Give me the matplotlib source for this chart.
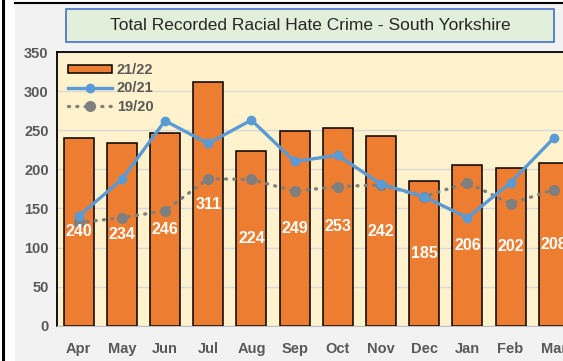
import matplotlib.pyplot as plt
import matplotlib.patches as mpatches
from matplotlib.lines import Line2D
import numpy as np

months = ['Apr', 'May', 'Jun', 'Jul', 'Aug', 'Sep', 'Oct', 'Nov', 'Dec', 'Jan', 'Feb', 'Mar']
crimes_2122 = [240, 234, 246, 311, 224, 249, 253, 242, 185, 206, 202, 208]
crimes_2021 = [140, 187, 262, 233, 263, 210, 218, 181, 165, 138, 183, 240]
crimes_1920 = [132, 138, 147, 188, 187, 172, 178, 180, 165, 183, 156, 174]
y_ticks = [0, 50, 100, 150, 200, 250, 300, 350]

plt.rcParams['font.family'] = ['Liberation Sans', 'DejaVu Sans']

fig = plt.figure(figsize=(5.63, 3.61), dpi=100)
W, H = 563, 361

# grey chart area and the black frame lines
fig.patches.append(mpatches.Rectangle((15 / W, 0), 1, (H - 3) / H, transform=fig.transFigure,
                                      facecolor='#F2F2F2', edgecolor='none', zorder=-2))
fig.add_artist(Line2D([2.5 / W, 2.5 / W], [0, 1], color='black', lw=2.2, transform=fig.transFigure))
fig.add_artist(Line2D([15 / W, 1], [(H - 3) / H, (H - 3) / H], color='black', lw=1.5,
                      transform=fig.transFigure))

ax = fig.add_axes([57 / W, 35.3 / H, 518.4 / W, 273.7 / H])
ax.set_facecolor('#FFF2CC')

x = np.arange(len(months))
bars = ax.bar(x, crimes_2122, width=0.69, color='#ED7D31', edgecolor='black', linewidth=1.1,
              label='21/22', zorder=2)
blue, = ax.plot(x, crimes_2021, color='#5B9BD5', lw=2.4, marker='o', markersize=6,
                label='20/21', zorder=4)
grey, = ax.plot(x, crimes_1920, color='#7F7F7F', lw=2.4, linestyle=(0, (0.3, 2.2)),
                dash_capstyle='round', marker='o', markersize=7, label='19/20', zorder=3)

for xi, v in zip(x, crimes_2122):
    ax.text(xi, v / 2, str(v), ha='center', va='center', color='white',
            fontsize=11.5, fontweight='bold', zorder=5)

ax.set_xlim(-0.5, 11.5)
ax.set_ylim(0, 350)
ax.set_yticks(y_ticks)
ax.set_xticks(x)
ax.set_xticklabels(months)
ax.yaxis.grid(True, color='#D9D9D9', lw=1)
ax.set_axisbelow(True)
ax.tick_params(length=0, labelsize=10.5, labelcolor='#595959', pad=6)
ax.tick_params(axis='x', pad=12)
for lab in ax.get_xticklabels() + ax.get_yticklabels():
    lab.set_fontweight('bold')

for side in ['top', 'left']:
    ax.spines[side].set_color('black')
    ax.spines[side].set_linewidth(1.3)
ax.spines['bottom'].set_color('#BFBFBF')
ax.spines['right'].set_visible(False)

leg = ax.legend(handles=[bars, blue, grey], loc='upper left', frameon=False,
                fontsize=10.5, handlelength=3.0, handleheight=0.5,
                bbox_to_anchor=(0.0, 1.0), borderaxespad=0.35,
                labelspacing=0.3, handletextpad=0.35)
for t in leg.get_texts():
    t.set_color('#595959')
    t.set_fontweight('bold')

# title box
fig.patches.append(mpatches.Rectangle((66 / W, (H - 42) / H), 488 / W, 33 / H,
                                      transform=fig.transFigure, facecolor='#E2EFDA',
                                      edgecolor='#4472C4', lw=1.2, zorder=-1))
fig.text(310 / W, (H - 25.5) / H, 'Total Recorded Racial Hate Crime - South Yorkshire',
         ha='center', va='center', fontsize=12.5, color='#262626')

fig.savefig('out.png', dpi=100)
